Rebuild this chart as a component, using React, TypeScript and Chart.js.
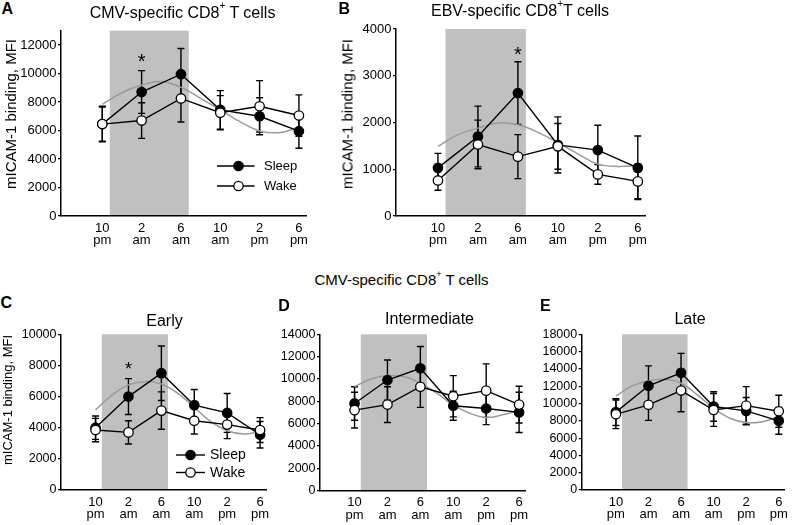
import React, { useEffect, useRef } from 'react';
import { Chart, registerables } from 'chart.js';

Chart.register(...registerables);

const FONT = '"Liberation Sans", Arial, Helvetica, sans-serif';
Chart.defaults.font.family = FONT;
Chart.defaults.color = '#000';

// ---------- shared categories ----------
const timeSlots = [0, 1, 2, 3, 4, 5];
const timeHour = ['10', '2', '6', '10', '2', '6'];
const timeMeridiem = ['pm', 'am', 'am', 'am', 'pm', 'pm'];
const fitSlots = [0, 0.5, 1, 1.5, 2, 2.5, 3, 3.5, 4, 4.5, 5];
const sleepPeriod = [0.19, 2.2];

// ---------- Panel A: CMV-specific CD8+ T cells ----------
const aSleep = [6450, 8700, 9950, 7450, 7000, 5950];
const aSleepErr = [1200, 1500, 1800, 1350, 1300, 1200];
const aWake = [6450, 6700, 8250, 7250, 7700, 7050];
const aWakeErr = [1250, 1250, 1650, 1200, 1800, 1450];
const aFit = [7840, 8650, 9190, 9430, 9030, 8260, 7440, 6620, 5970, 5850, 6200];
const aYTicks = [0, 2000, 4000, 6000, 8000, 10000, 12000];
const aYMax = 13000;
const aStar = [1, 11180];

// ---------- Panel B: EBV-specific CD8+ T cells ----------
const bSleep = [1030, 1700, 2630, 1520, 1410, 1030];
const bSleepErr = [310, 650, 670, 600, 530, 680];
const bWake = [760, 1530, 1270, 1490, 890, 740];
const bWakeErr = [210, 520, 470, 490, 210, 370];
const bFit = [1490, 1740, 1880, 1990, 1950, 1790, 1570, 1330, 1110, 1060, 1080];
const bYTicks = [0, 1000, 2000, 3000, 4000];
const bYMax = 4000;
const bStar = [2, 3550];

// ---------- Panel C: Early ----------
const cSleep = [4000, 6000, 7500, 5450, 4950, 3550];
const cSleepErr = [750, 1150, 1750, 1000, 1250, 850];
const cWake = [3850, 3700, 5100, 4450, 4200, 3850];
const cWakeErr = [750, 750, 1200, 850, 900, 800];
const cFit = [5140, 6100, 6750, 6960, 6810, 6210, 5310, 4390, 3810, 3600, 3750];
const cYTicks = [0, 2000, 4000, 6000, 8000, 10000];
const cYMax = 10000;
const cStar = [1, 8050];

// ---------- Panel D: Intermediate ----------
const dSleep = [7800, 9900, 10950, 7600, 7350, 7000];
const dSleepErr = [1500, 1800, 1950, 1300, 1450, 1800];
const dWake = [7200, 7700, 9300, 8450, 8950, 7700];
const dWakeErr = [1600, 1600, 1850, 1850, 2400, 1650];
const dFit = [9310, 10000, 10300, 10210, 9610, 8720, 7670, 6930, 6540, 6780, 7160];
const dYTicks = [0, 2000, 4000, 6000, 8000, 10000, 12000, 14000];
const dYMax = 14000;

// ---------- Panel E: Late ----------
const eSleep = [9000, 12050, 13550, 9650, 9150, 8000];
const eSleepErr = [1550, 2300, 2250, 1700, 1550, 1550];
const eWake = [8750, 9850, 11500, 9250, 9750, 9100];
const eWakeErr = [1650, 1800, 2450, 1900, 2200, 1850];
const eFit = [10870, 12030, 12640, 12800, 12340, 10990, 9450, 8290, 7790, 7900, 8480];
const eYTicks = [0, 2000, 4000, 6000, 8000, 10000, 12000, 14000, 16000, 18000];
const eYMax = 18000;

const legendNames = ['Sleep', 'Wake'];

// ---------- layout (page pixels) ----------
type Legend = { lineX: [number, number]; markerX: number; textX: number; rows: [number, number]; size: number };
type PanelCfg = {
  box: [number, number, number, number];
  area: [number, number, number, number];
  sleep: number[]; sleepErr: number[]; wake: number[]; wakeErr: number[]; fit: number[];
  yTicks: number[]; yMax: number; tickSize: number;
  star?: number[]; starSize?: number;
  legend?: Legend;
};

const X_MIN = -1.05;
const X_MAX = 5.18;

const panels: PanelCfg[] = [
  {
    box: [15, 15, 305, 245], area: [61, 30.75, 306, 216],
    sleep: aSleep, sleepErr: aSleepErr, wake: aWake, wakeErr: aWakeErr, fit: aFit,
    yTicks: aYTicks, yMax: aYMax, tickSize: 13, star: aStar, starSize: 20,
    legend: { lineX: [217, 254.5], markerX: 238.5, textX: 264, rows: [166, 186], size: 13 },
  },
  {
    box: [350, 15, 310, 245], area: [396, 29, 645, 216],
    sleep: bSleep, sleepErr: bSleepErr, wake: bWake, wakeErr: bWakeErr, fit: bFit,
    yTicks: bYTicks, yMax: bYMax, tickSize: 13, star: bStar, starSize: 20,
  },
  {
    box: [15, 320, 265, 205], area: [61, 334.3, 266, 490],
    sleep: cSleep, sleepErr: cSleepErr, wake: cWake, wakeErr: cWakeErr, fit: cFit,
    yTicks: cYTicks, yMax: cYMax, tickSize: 12.5, star: cStar, starSize: 18,
    legend: { lineX: [176, 205], markerX: 190.5, textX: 210, rows: [455, 472.5], size: 14 },
  },
  {
    box: [274, 320, 265, 205], area: [320, 334.3, 525, 490.5],
    sleep: dSleep, sleepErr: dSleepErr, wake: dWake, wakeErr: dWakeErr, fit: dFit,
    yTicks: dYTicks, yMax: dYMax, tickSize: 12.5,
  },
  {
    box: [535, 320, 259, 205], area: [581.7, 334.3, 787, 490],
    sleep: eSleep, sleepErr: eSleepErr, wake: eWake, wakeErr: eWakeErr, fit: eFit,
    yTicks: eYTicks, yMax: eYMax, tickSize: 12.5,
  },
];

const POINT_R = 4.7;

function makeChart(canvas: HTMLCanvasElement, p: PanelCfg) {
  const [bx, by, bw, bh] = p.box;
  const [L, T, R, B] = p.area;

  const shade = {
    id: 'shade',
    beforeDraw(chart: any) {
      const { ctx, chartArea, scales } = chart;
      const x0 = scales.x.getPixelForValue(sleepPeriod[0]);
      const x1 = scales.x.getPixelForValue(sleepPeriod[1]);
      ctx.save();
      ctx.fillStyle = '#c0c0c0';
      ctx.fillRect(x0, chartArea.top, x1 - x0, chartArea.bottom - chartArea.top);
      ctx.restore();
    },
  };

  const errs = {
    id: 'errs',
    beforeDatasetsDraw(chart: any) {
      const { ctx, scales } = chart;
      chart.data.datasets.forEach((ds: any, i: number) => {
        if (!ds.errors) return;
        const meta = chart.getDatasetMeta(i);
        ctx.save();
        ctx.strokeStyle = '#000';
        ctx.lineWidth = 1.4;
        meta.data.forEach((pt: any, j: number) => {
          const v = ds.data[j].y;
          const e = ds.errors[j];
          const yt = scales.y.getPixelForValue(v + e);
          const yb = scales.y.getPixelForValue(v - e);
          const x = pt.x;
          const cap = 3.5;
          ctx.beginPath();
          ctx.moveTo(x, yt); ctx.lineTo(x, yb);
          ctx.moveTo(x - cap, yt); ctx.lineTo(x + cap, yt);
          ctx.moveTo(x - cap, yb); ctx.lineTo(x + cap, yb);
          ctx.stroke();
        });
        ctx.restore();
      });
    },
  };

  const annot = {
    id: 'annot',
    afterDraw(chart: any) {
      const { ctx, scales } = chart;
      ctx.save();
      if (p.legend) {
        const lg = p.legend;
        lg.rows.forEach((ry, k) => {
          const y = ry - by;
          ctx.strokeStyle = '#000';
          ctx.lineWidth = 1.4;
          ctx.beginPath();
          ctx.moveTo(lg.lineX[0] - bx, y);
          ctx.lineTo(lg.lineX[1] - bx, y);
          ctx.stroke();
          ctx.beginPath();
          ctx.arc(lg.markerX - bx, y, POINT_R, 0, Math.PI * 2);
          ctx.fillStyle = k === 0 ? '#000' : '#fff';
          ctx.fill();
          ctx.lineWidth = 1.3;
          ctx.stroke();
          ctx.fillStyle = '#000';
          ctx.font = `${lg.size}px ${FONT}`;
          ctx.textAlign = 'left';
          ctx.textBaseline = 'middle';
          ctx.fillText(legendNames[k], lg.textX - bx, y + 0.5);
        });
      }
      if (p.star) {
        const sz = p.starSize || 18;
        const x = scales.x.getPixelForValue(p.star[0]);
        const y = scales.y.getPixelForValue(p.star[1]);
        ctx.fillStyle = '#000';
        ctx.font = `${sz}px ${FONT}`;
        ctx.textAlign = 'center';
        ctx.textBaseline = 'alphabetic';
        ctx.fillText('*', x, y + sz * 0.57);
      }
      ctx.restore();
    },
  };

  const lineDs = (vals: number[], errors: number[], fillCol: string, label: string) => ({
    label,
    data: timeSlots.map((x, i) => ({ x, y: vals[i] })),
    errors,
    borderColor: '#000',
    borderWidth: 1.4,
    pointRadius: POINT_R,
    pointBackgroundColor: fillCol,
    pointBorderColor: '#000',
    pointBorderWidth: 1.3,
    fill: false,
    tension: 0,
  });

  return new Chart(canvas, {
    type: 'line',
    data: {
      datasets: [
        lineDs(p.wake, p.wakeErr, '#fff', 'Wake'),
        lineDs(p.sleep, p.sleepErr, '#000', 'Sleep'),
        {
          label: 'fit',
          data: fitSlots.map((x, i) => ({ x, y: p.fit[i] })),
          borderColor: '#9a9a9a',
          borderWidth: 1.5,
          pointRadius: 0,
          tension: 0.4,
          fill: false,
        },
      ] as any,
    },
    options: {
      responsive: false,
      maintainAspectRatio: false,
      animation: false,
      devicePixelRatio: 1,
      events: [],
      layout: { padding: { left: 0, top: T - by, right: bx + bw - R, bottom: 0 } },
      plugins: { legend: { display: false }, tooltip: { enabled: false }, title: { display: false } },
      scales: {
        x: {
          type: 'linear',
          min: X_MIN,
          max: X_MAX,
          afterBuildTicks: (s: any) => { s.ticks = timeSlots.map((v) => ({ value: v })); },
          afterFit: (s: any) => { s.height = by + bh - B; },
          grid: { display: true, drawOnChartArea: false, drawTicks: false },
          border: { display: true, color: '#000', width: 1.5 },
          ticks: {
            autoSkip: false,
            maxRotation: 0,
            padding: 6,
            color: '#000',
            font: { family: FONT, size: 13, lineHeight: 0.95 },
            callback: (v: any) => {
              const k = timeSlots.indexOf(Number(v));
              return k < 0 ? '' : [timeHour[k], timeMeridiem[k]];
            },
          },
        },
        y: {
          min: 0,
          max: p.yMax,
          afterBuildTicks: (s: any) => { s.ticks = p.yTicks.map((v) => ({ value: v })); },
          afterFit: (s: any) => { s.width = L - bx; },
          grid: { display: true, drawOnChartArea: false, drawTicks: true, tickLength: 3, color: '#000', lineWidth: 1.2 },
          border: { display: true, color: '#000', width: 1.5 },
          ticks: {
            autoSkip: false,
            padding: 1.5,
            color: '#000',
            font: { family: FONT, size: p.tickSize },
            callback: (v: any) => String(v),
          },
        },
      },
    } as any,
    plugins: [shade, errs, annot],
  });
}

function Panel({ cfg }: { cfg: PanelCfg }) {
  const ref = useRef<HTMLCanvasElement>(null);
  useEffect(() => {
    const chart = makeChart(ref.current as HTMLCanvasElement, cfg);
    return () => chart.destroy();
  }, [cfg]);
  const [x, y, w, h] = cfg.box;
  return (
    <canvas
      ref={ref}
      width={w}
      height={h}
      style={{ position: 'absolute', left: x, top: y, width: w, height: h, display: 'block' }}
    />
  );
}

function Txt({ x, capTop, size, bold, center, children }: any) {
  return (
    <div
      style={{
        position: 'absolute',
        left: x,
        top: capTop - 0.13 * size,
        fontSize: size,
        lineHeight: 1,
        fontWeight: bold ? 'bold' : 'normal',
        whiteSpace: 'nowrap',
        transform: center ? 'translateX(-50%)' : undefined,
        fontFamily: FONT,
        color: '#000',
      }}
    >
      {children}
    </div>
  );
}

function Sup({ size }: { size: number }) {
  return (
    <span style={{ fontSize: Math.round(size * 0.62), position: 'relative', top: -Math.round(size * 0.55) }}>+</span>
  );
}

function YLabel({ x, y, size }: { x: number; y: number; size: number }) {
  return (
    <div
      style={{
        position: 'absolute',
        left: x,
        top: y,
        fontSize: size,
        lineHeight: 1,
        whiteSpace: 'nowrap',
        fontFamily: FONT,
        transform: 'translate(-50%, -50%) rotate(-90deg)',
        color: '#000',
      }}
    >
      mICAM-1 binding, MFI
    </div>
  );
}

export default function App() {
  return (
    <div
      style={{
        position: 'absolute',
        left: 0,
        top: 0,
        width: 794,
        height: 525,
        background: '#fff',
        overflow: 'hidden',
        fontFamily: FONT,
      }}
    >
      {panels.map((p, i) => (
        <Panel key={i} cfg={p} />
      ))}
      <Txt x={1.5} capTop={3.3} size={16} bold>A</Txt>
      <Txt x={182.5} capTop={7.3} size={16} center>
        CMV-specific CD8<Sup size={16} /> T cells
      </Txt>
      <Txt x={338.5} capTop={3.3} size={16} bold>B</Txt>
      <Txt x={520} capTop={5.5} size={16} center>
        EBV-specific CD8<Sup size={16} />T cells
      </Txt>
      <Txt x={401.5} capTop={273.7} size={15} center>
        CMV-specific CD8<Sup size={15} /> T cells
      </Txt>
      <Txt x={0.5} capTop={297.5} size={16} bold>C</Txt>
      <Txt x={164.5} capTop={315} size={16} center>Early</Txt>
      <Txt x={278.3} capTop={300} size={16} bold>D</Txt>
      <Txt x={429.5} capTop={313.5} size={16} center>Intermediate</Txt>
      <Txt x={540} capTop={300} size={16} bold>E</Txt>
      <Txt x={690} capTop={313.3} size={16} center>Late</Txt>
      <YLabel x={10} y={114} size={15} />
      <YLabel x={346.7} y={114} size={15} />
      <YLabel x={6.7} y={400} size={13} />
    </div>
  );
}
